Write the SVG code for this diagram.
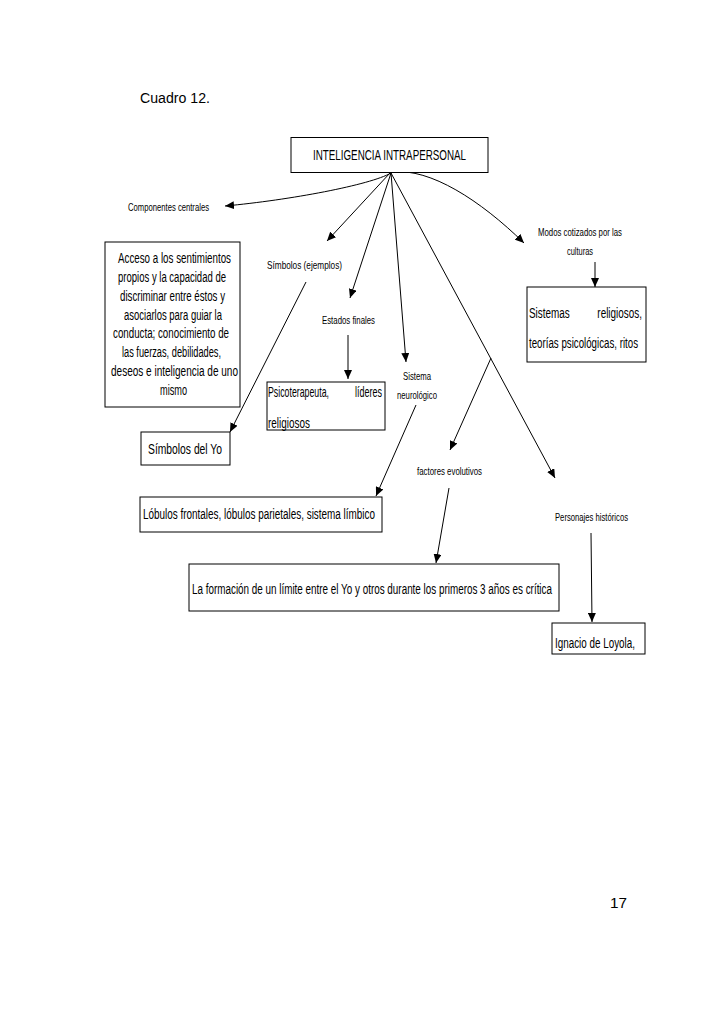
<svg xmlns="http://www.w3.org/2000/svg" width="728" height="1030" viewBox="0 0 728 1030">
<style>
.bg{fill:#ffffff}
.box{fill:#ffffff;stroke:#000000;stroke-width:1}
.c{fill:none;stroke:#000000;stroke-width:1}
.t{font-family:'Liberation Sans Narrow','Liberation Sans',Arial,sans-serif;fill:#000000}
.w{font-family:'Liberation Sans',Arial,sans-serif;fill:#000000}
.s{font-size:11px}
.m{font-size:14px}
.r{font-family:'Liberation Sans',Arial,sans-serif;font-size:14px;fill:#000000}
.pre{white-space:pre}
</style>
<defs>
<marker id="ah" markerUnits="userSpaceOnUse" markerWidth="9" markerHeight="8" refX="9" refY="4" orient="auto">
<path d="M0,0 L9,4 L0,8 z" fill="#000000"/>
</marker>
</defs>
<rect class="bg" x="0" y="0" width="728" height="1030"/>
<text class="r" x="140" y="103" textLength="70" lengthAdjust="spacingAndGlyphs">Cuadro 12.</text>

<g id="connectors">
<path class="c" d="M391,173 C370,185 290,200 225,206" marker-end="url(#ah)"/>
<line class="c" x1="390" y1="173" x2="327" y2="241" marker-end="url(#ah)"/>
<line class="c" x1="391" y1="173" x2="350" y2="298" marker-end="url(#ah)"/>
<line class="c" x1="391" y1="173" x2="406" y2="362" marker-end="url(#ah)"/>
<line class="c" x1="391" y1="173" x2="555" y2="478" marker-end="url(#ah)"/>
<line class="c" x1="491" y1="358" x2="450" y2="450" marker-end="url(#ah)"/>
<path class="c" d="M393,172 C430,168 480,200 524,243" marker-end="url(#ah)"/>
<line class="c" x1="306" y1="282" x2="230" y2="432" marker-end="url(#ah)"/>
<line class="c" x1="348" y1="335" x2="348" y2="379" marker-end="url(#ah)"/>
<line class="c" x1="595" y1="262" x2="595" y2="287" marker-end="url(#ah)"/>
<line class="c" x1="416" y1="405" x2="376" y2="496" marker-end="url(#ah)"/>
<line class="c" x1="449" y1="488" x2="436" y2="563" marker-end="url(#ah)"/>
<line class="c" x1="591" y1="533" x2="592" y2="622" marker-end="url(#ah)"/>
</g>

<g id="n-inteligencia">
<rect class="box" x="291" y="137.5" width="197" height="35"/>
<text class="t m" x="313" y="160" textLength="153" lengthAdjust="spacingAndGlyphs">INTELIGENCIA INTRAPERSONAL</text>
</g>

<g id="n-componentes">
<text class="t s" x="128" y="211" textLength="81" lengthAdjust="spacingAndGlyphs">Componentes centrales</text>
</g>

<g id="n-acceso">
<rect class="box" x="105" y="242" width="135" height="165"/>
<g class="t m" text-anchor="middle">
<text x="174.5" y="263" textLength="113" lengthAdjust="spacingAndGlyphs">Acceso a los sentimientos</text>
<text x="172" y="282" textLength="108" lengthAdjust="spacingAndGlyphs">propios y la capacidad de</text>
<text x="172.5" y="301" textLength="105" lengthAdjust="spacingAndGlyphs">discriminar entre éstos y</text>
<text x="173" y="320" textLength="98" lengthAdjust="spacingAndGlyphs">asociarlos para guiar la</text>
<text x="171" y="338" textLength="116" lengthAdjust="spacingAndGlyphs">conducta; conocimiento de</text>
<text x="171.5" y="357" textLength="99" lengthAdjust="spacingAndGlyphs">las fuerzas, debilidades,</text>
<text x="174.5" y="376" textLength="127" lengthAdjust="spacingAndGlyphs">deseos e inteligencia de uno</text>
<text x="173.5" y="395" textLength="27" lengthAdjust="spacingAndGlyphs">mismo</text>
</g>
</g>

<g id="n-simbolos">
<text class="t s" x="267" y="269" textLength="75" lengthAdjust="spacingAndGlyphs">Símbolos (ejemplos)</text>
</g>

<g id="n-simbolos-yo">
<rect class="box" x="141" y="432" width="89" height="33"/>
<text class="t m" x="148" y="454" textLength="74" lengthAdjust="spacingAndGlyphs">Símbolos del  Yo</text>
</g>

<g id="n-estados">
<text class="t s" x="322" y="324" textLength="53" lengthAdjust="spacingAndGlyphs">Estados finales</text>
</g>

<g id="n-psicoterapeuta">
<rect class="box" x="267" y="382" width="118" height="48"/>
<text class="w m" transform="translate(268,397) scale(0.627,1)" textLength="97.3" lengthAdjust="spacingAndGlyphs">Psicoterapeuta,</text>
<text class="w m" transform="translate(355,397) scale(0.643,1)" textLength="42" lengthAdjust="spacingAndGlyphs">líderes</text>
<text class="t m" x="268" y="428" textLength="42" lengthAdjust="spacingAndGlyphs">religiosos</text>
</g>

<g id="n-sistema">
<text class="t s" x="403" y="380" textLength="28" lengthAdjust="spacingAndGlyphs">Sistema</text>
<text class="t s" x="397" y="399" textLength="40" lengthAdjust="spacingAndGlyphs">neurológico</text>
</g>

<g id="n-lobulos">
<rect class="box" x="140" y="497" width="242" height="35"/>
<text class="t m" x="143" y="519" textLength="232" lengthAdjust="spacingAndGlyphs">Lóbulos frontales, lóbulos parietales, sistema límbico</text>
</g>

<g id="n-modos">
<text class="t s" x="538" y="236" textLength="84" lengthAdjust="spacingAndGlyphs">Modos cotizados por las</text>
<text class="t s" x="567" y="255" textLength="26" lengthAdjust="spacingAndGlyphs">culturas</text>
</g>

<g id="n-sistemas">
<rect class="box" x="527" y="287" width="119" height="75"/>
<text class="t m pre" xml:space="preserve" x="529" y="318" textLength="113" lengthAdjust="spacingAndGlyphs">Sistemas          religiosos,</text>
<text class="t m" x="529" y="348" textLength="109" lengthAdjust="spacingAndGlyphs">teorías psicológicas, ritos</text>
</g>

<g id="n-factores">
<text class="t s" x="417" y="475" textLength="65" lengthAdjust="spacingAndGlyphs">factores evolutivos</text>
</g>

<g id="n-formacion">
<rect class="box" x="189" y="564" width="370" height="47"/>
<text class="t m" x="192" y="594" textLength="360" lengthAdjust="spacingAndGlyphs">La formación de un límite entre el Yo y otros durante los primeros 3 años es crítica</text>
</g>

<g id="n-personajes">
<text class="t s" x="555" y="521" textLength="73" lengthAdjust="spacingAndGlyphs">Personajes históricos</text>
</g>

<g id="n-ignacio">
<rect class="box" x="552" y="623" width="93" height="31"/>
<text class="t m" x="555" y="648" textLength="80" lengthAdjust="spacingAndGlyphs">Ignacio de Loyola,</text>
</g>

<text class="r" x="610" y="908" textLength="17" lengthAdjust="spacingAndGlyphs">17</text>
</svg>
